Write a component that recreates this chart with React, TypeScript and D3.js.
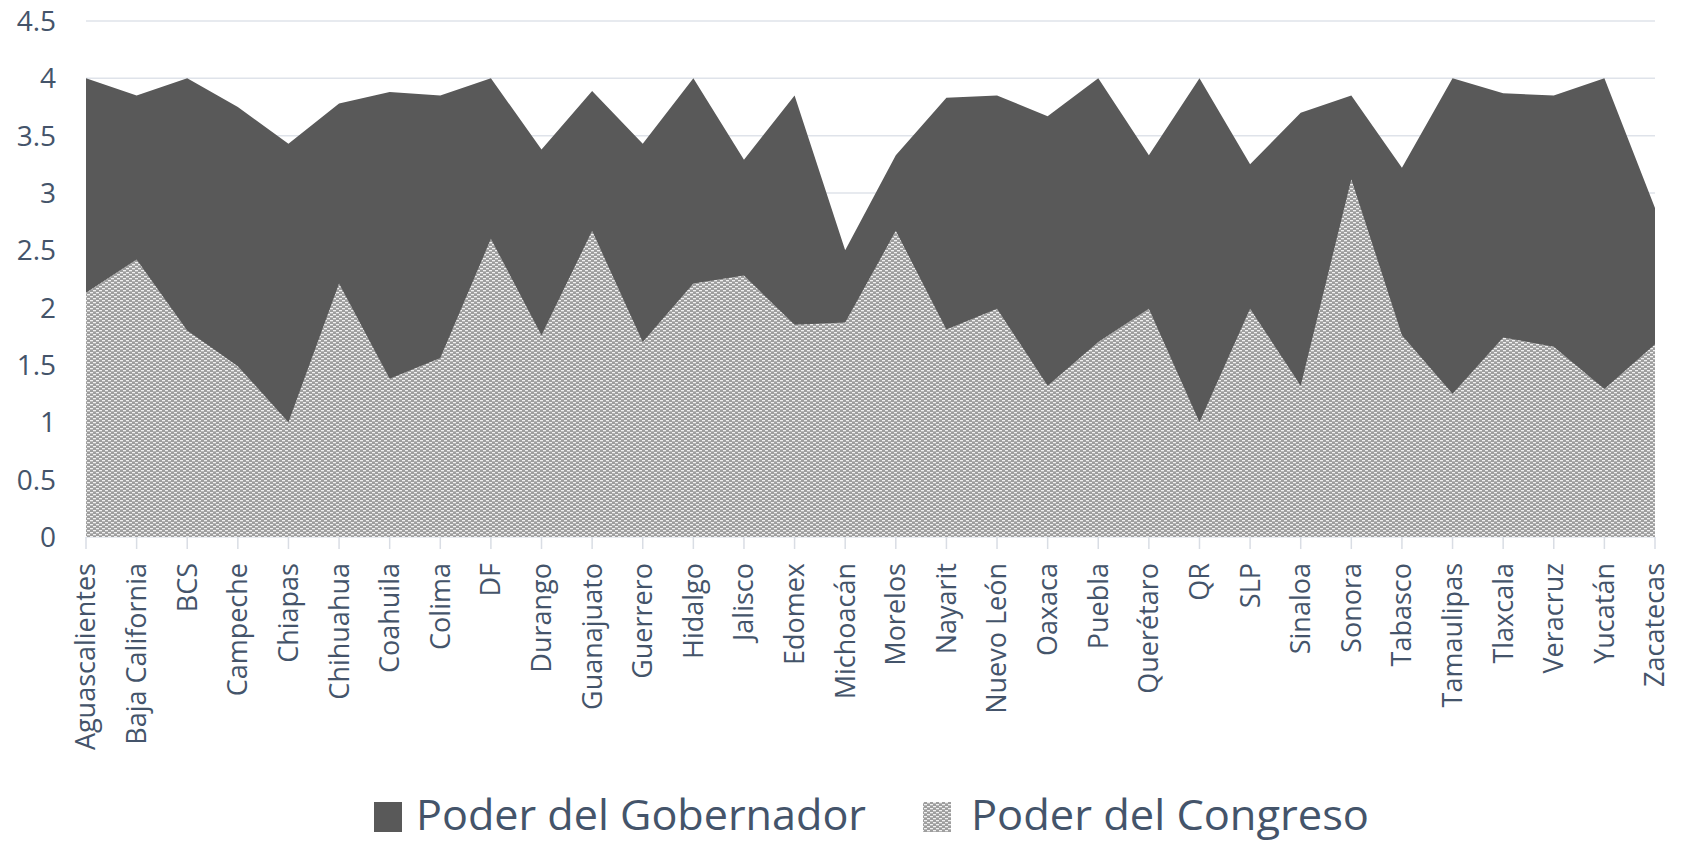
import React, { useEffect } from 'react';
import * as d3 from 'd3';

const estados = [
  'Aguascalientes', 'Baja California', 'BCS', 'Campeche', 'Chiapas', 'Chihuahua',
  'Coahuila', 'Colima', 'DF', 'Durango', 'Guanajuato', 'Guerrero', 'Hidalgo',
  'Jalisco', 'Edomex', 'Michoacán', 'Morelos', 'Nayarit', 'Nuevo León', 'Oaxaca',
  'Puebla', 'Querétaro', 'QR', 'SLP', 'Sinaloa', 'Sonora', 'Tabasco', 'Tamaulipas',
  'Tlaxcala', 'Veracruz', 'Yucatán', 'Zacatecas',
];

const poderGobernador = [
  4.0, 3.85, 4.0, 3.75, 3.43, 3.78, 3.88, 3.85, 4.0, 3.38, 3.89, 3.43, 4.0, 3.29,
  3.85, 2.5, 3.33, 3.83, 3.85, 3.67, 4.0, 3.33, 4.0, 3.25, 3.7, 3.85, 3.22, 4.0,
  3.87, 3.85, 4.0, 2.87,
];

const poderCongreso = [
  2.13, 2.42, 1.8, 1.49, 1.0, 2.21, 1.38, 1.56, 2.6, 1.76, 2.67, 1.7, 2.21, 2.28,
  1.85, 1.87, 2.67, 1.81, 1.99, 1.32, 1.7, 1.99, 1.0, 1.99, 1.32, 3.12, 1.76, 1.25,
  1.74, 1.66, 1.29, 1.68,
];

const yTicks = [0, 0.5, 1, 1.5, 2, 2.5, 3, 3.5, 4, 4.5];

const W = 1682;
const H = 842;
const textColor = '#44546a';
const font = '"Open Sans", sans-serif';

const App = () => {
  useEffect(() => {
    document.body.style.margin = '0';
  }, []);

  const x = d3.scalePoint<string>().domain(estados).range([86, 1655]);
  const y = d3.scaleLinear().domain([0, 4.5]).range([537, 21]);

  const area = d3.area<number>()
    .x((d, i) => x(estados[i]) as number)
    .y0(y(0))
    .y1(d => y(d));

  return (
    <svg width={W} height={H} style={{ display: 'block', background: '#fff' }}>
      <defs>
        <pattern id="congreso" width={6} height={4} patternUnits="userSpaceOnUse">
          <rect width={6} height={4} fill="#9e9e9e" />
          <rect x={0} y={0} width={3} height={1.3} fill="#fff" opacity={0.85} />
          <rect x={3} y={2} width={3} height={1.3} fill="#fff" opacity={0.85} />
        </pattern>
      </defs>

      {yTicks.map(t => (
        <g key={t}>
          <line x1={86} x2={1655} y1={y(t)} y2={y(t)} stroke="#dfe3ea" strokeWidth={1.5} />
          <text x={56} y={y(t)} dy="0.36em" textAnchor="end" fontFamily={font}
            fontSize={28} fill={textColor}>{t}</text>
        </g>
      ))}

      {estados.map(e => (
        <line key={e} x1={x(e)} x2={x(e)} y1={537} y2={549} stroke="#d9dde4" strokeWidth={1.5} />
      ))}

      <path d={area(poderGobernador) ?? ''} fill="#595959" />
      <path d={area(poderCongreso) ?? ''} fill="url(#congreso)" />

      {estados.map(e => (
        <text key={e} transform={`translate(${x(e)},563) rotate(-90)`} textAnchor="end"
          dy="0.35em" fontFamily={font} fontSize={27} fill={textColor}>{e}</text>
      ))}

      <rect x={374} y={802} width={28} height={30} fill="#595959" />
      <text x={416} y={830} fontFamily={font} fontSize={42} fill={textColor}
        textLength={450} lengthAdjust="spacingAndGlyphs">Poder del Gobernador</text>
      <rect x={923} y={802} width={28} height={30} fill="url(#congreso)" />
      <text x={971} y={830} fontFamily={font} fontSize={42} fill={textColor}
        textLength={398} lengthAdjust="spacingAndGlyphs">Poder del Congreso</text>
    </svg>
  );
};

export default App;
